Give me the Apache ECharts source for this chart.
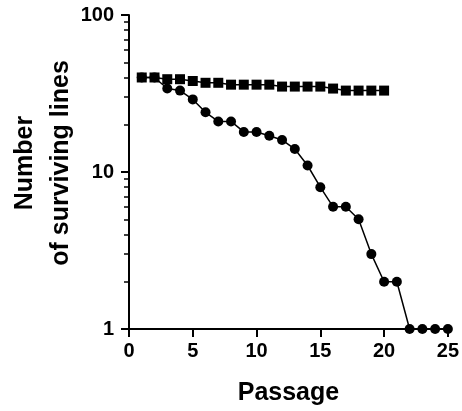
<!DOCTYPE html>
<html>
<head>
<meta charset="utf-8">
<script src="https://cdn.jsdelivr.net/npm/echarts@6/dist/echarts.min.js"></script>
<style>
html,body{margin:0;padding:0;background:#fff;}
#chart{width:462px;height:411px;}
</style>
</head>
<body>
<div id="chart"></div>
<script>
// Data
const passages = [1,2,3,4,5,6,7,8,9,10,11,12,13,14,15,16,17,18,19,20,21,22,23,24,25];
const squareValues = [40,40,39,39,38,37,37,36,36,36,36,35,35,35,35,34,33,33,33,33];
const circleValues = [40,40,34,33,29,24,21,21,18,18,17,16,14,11,8,6,6,5,3,2,2,1,1,1,1];
const yMinorTicks = [2,3,4,5,6,7,8,9,20,30,40,50,60,70,80,90];
const xTitle = 'Passage';
const yTitle = 'Number\nof surviving lines';

const FONT = 'Liberation Sans, Arial, Helvetica, sans-serif';
const chart = echarts.init(document.getElementById('chart'));

const squareData = squareValues.map((v, i) => [passages[i], v]);
const circleData = circleValues.map((v, i) => [passages[i], v]);

chart.setOption({
  animation: false,
  backgroundColor: '#fff',
  grid: { left: 129, right: 14, top: 15, bottom: 79, containLabel: false },
  xAxis: {
    type: 'value', min: 0, max: 25, interval: 5,
    name: xTitle, nameLocation: 'middle', nameGap: 52,
    nameTextStyle: { fontFamily: FONT, fontWeight: 'bold', fontSize: 25, color: '#000' },
    axisLine: { show: true, lineStyle: { color: '#000', width: 2 } },
    axisTick: { show: true, inside: false, length: 8, lineStyle: { color: '#000', width: 2 } },
    axisLabel: { fontFamily: FONT, fontWeight: 'bold', fontSize: 20, color: '#000', margin: 12 },
    splitLine: { show: false }
  },
  yAxis: [
    {
      type: 'log', logBase: 10, min: 1, max: 100,
      axisLine: { show: true, onZero: false, lineStyle: { color: '#000', width: 2 } },
      axisTick: { show: true, inside: false, length: 8, lineStyle: { color: '#000', width: 2 } },
      axisLabel: { fontFamily: FONT, fontWeight: 'bold', fontSize: 20, color: '#000', margin: 15 },
      splitLine: { show: false },
      minorTick: { show: false }
    },
    {
      // overlay axis carrying only the minor log ticks
      type: 'log', logBase: 10, min: 1, max: 100, position: 'left', offset: 0,
      axisLine: { show: false, onZero: false },
      axisTick: { show: true, inside: false, length: 5, customValues: yMinorTicks,
                  lineStyle: { color: '#000', width: 1.5 } },
      axisLabel: { show: false },
      splitLine: { show: false },
      minorTick: { show: false }
    }
  ],
  graphic: [{
    type: 'text', x: 43, y: 163, rotation: Math.PI / 2,
    style: {
      text: yTitle, fill: '#000',
      font: 'bold 25px ' + FONT,
      textAlign: 'center', textVerticalAlign: 'middle', lineHeight: 36
    }
  }],
  series: [
    {
      type: 'line', data: circleData, symbol: 'circle', symbolSize: 10,
      itemStyle: { color: '#000' }, lineStyle: { color: '#000', width: 1.5 },
      clip: false, z: 2
    },
    {
      type: 'line', data: squareData, symbol: 'rect', symbolSize: 10,
      itemStyle: { color: '#000' }, lineStyle: { color: '#000', width: 1.5 },
      clip: false, z: 3
    }
  ]
});
</script>
</body>
</html>
